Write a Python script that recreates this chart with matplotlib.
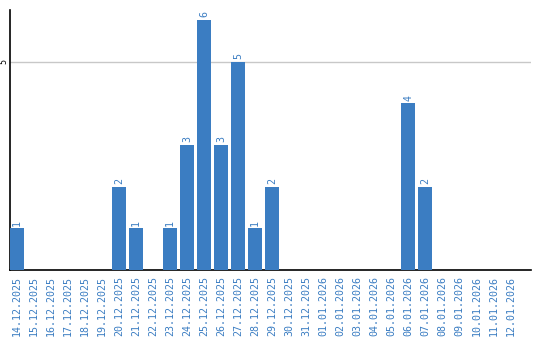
import numpy as np
import matplotlib
matplotlib.use('Agg')
import matplotlib.pyplot as plt

dates = ["14.12.2025", "15.12.2025", "16.12.2025", "17.12.2025", "18.12.2025",
         "19.12.2025", "20.12.2025", "21.12.2025", "22.12.2025", "23.12.2025",
         "24.12.2025", "25.12.2025", "26.12.2025", "27.12.2025", "28.12.2025",
         "29.12.2025", "30.12.2025", "31.12.2025", "01.01.2026", "02.01.2026",
         "03.01.2026", "04.01.2026", "05.01.2026", "06.01.2026", "07.01.2026",
         "08.01.2026", "09.01.2026", "10.01.2026", "11.01.2026", "12.01.2026"]
counts = [1, 0, 0, 0, 0, 0, 2, 1, 0, 1, 3, 6, 3, 5, 1, 2,
          0, 0, 0, 0, 0, 0, 0, 4, 2, 0, 0, 0, 0, 0]

blue = '#3b7dc2'
mono = 'DejaVu Sans Mono'

fig = plt.figure(figsize=(5.4, 3.4), dpi=100)
ax = fig.add_axes([10/540, 70/340, 521/540, 260/340])

ind = np.arange(len(dates))
width = 0.82
rects = ax.bar(ind, counts, width, color=blue, zorder=3)

ax.set_xlim(-width/2, 30.2)
ax.set_ylim(0, 6.24)

ax.set_yticks([5])
ax.set_yticklabels(['5'], rotation=90, va='center', fontsize=6, family=mono)
ax.yaxis.grid(True, color='#c8c8c8', linewidth=1, zorder=0)
ax.tick_params(axis='y', length=0, pad=1.5)

ax.set_xticks(ind)
ax.set_xticklabels(dates, rotation=90, fontsize=7.2, family=mono, color=blue)
ax.tick_params(axis='x', length=0, pad=4)

for s in ['top', 'right']:
    ax.spines[s].set_visible(False)
for s in ['left', 'bottom']:
    ax.spines[s].set_linewidth(1.2)
    ax.spines[s].set_color('black')

for rect, c in zip(rects, counts):
    if c == 0:
        continue
    ax.annotate('%d' % c, (rect.get_x() + rect.get_width()/2., c),
                xytext=(0, 2), textcoords='offset points',
                ha='center', va='bottom', rotation=90,
                fontsize=7.2, family=mono, color=blue)

fig.savefig('out.png', dpi=100)
